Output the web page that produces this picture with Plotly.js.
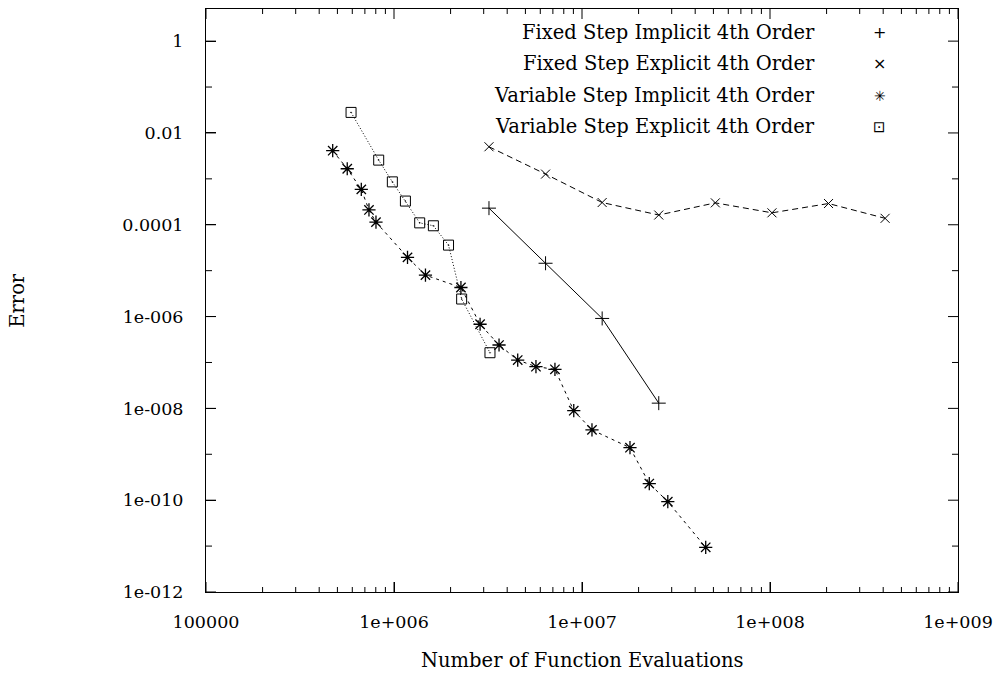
<!DOCTYPE html>
<html>
<head>
<meta charset="utf-8">
<script src="https://cdn.plot.ly/plotly-3.0.1.min.js"></script>
<style>html,body{margin:0;padding:0;background:#fff;}#chart{width:1001px;height:680px;}</style>
</head>
<body>
<div id="chart"></div>
<script>
// Data
const seriesNames = [
  "Fixed Step Implicit 4th Order",
  "Fixed Step Explicit 4th Order",
  "Variable Step Implicit 4th Order",
  "Variable Step Explicit 4th Order"
];

const fixedImplicitX = [3.2e6, 6.4e6, 1.28e7, 2.56e7];
const fixedImplicitY = [2.3e-4, 1.45e-5, 9.1e-7, 1.3e-8];

const fixedExplicitX = [3.2e6, 6.4e6, 1.28e7, 2.56e7, 5.12e7, 1.024e8, 2.048e8, 4.096e8];
const fixedExplicitY = [5.0e-3, 1.27e-3, 3.05e-4, 1.63e-4, 3.0e-4, 1.82e-4, 2.9e-4, 1.38e-4];

const varImplicitX = [4.72e5, 5.64e5, 6.70e5, 7.36e5, 8.02e5, 1.18e6, 1.47e6, 2.27e6, 2.87e6, 3.62e6,
                      4.55e6, 5.69e6, 7.18e6, 9.04e6, 1.13e7, 1.80e7, 2.28e7, 2.86e7, 4.55e7];
const varImplicitY = [4.1e-3, 1.66e-3, 5.9e-4, 2.1e-4, 1.14e-4, 1.95e-5, 8.0e-6, 4.3e-6, 6.8e-7, 2.4e-7,
                      1.13e-7, 8.1e-8, 7.1e-8, 8.9e-9, 3.4e-9, 1.39e-9, 2.3e-10, 9.3e-11, 9.4e-12];

const varExplicitX = [5.91e5, 8.29e5, 9.80e5, 1.15e6, 1.37e6, 1.62e6, 1.95e6, 2.29e6, 3.24e6];
const varExplicitY = [2.8e-2, 2.56e-3, 8.6e-4, 3.28e-4, 1.1e-4, 9.5e-5, 3.6e-5, 2.41e-6, 1.63e-7];

const xTickVals = [1e5, 1e6, 1e7, 1e8, 1e9];
const xTickText = ["100000", "1e+006", "1e+007", "1e+008", "1e+009"];
const yTickVals = [1, 1e-2, 1e-4, 1e-6, 1e-8, 1e-10, 1e-12];
const yTickText = ["1", "0.01", "0.0001", "1e-006", "1e-008", "1e-010", "1e-012"];

const xTitle = "Number of Function Evaluations";
const yTitle = "Error";
const legendGlyphs = ["+", "×", "✳", "⊡"];

// styles
const FONT = "DejaVu Serif, Liberation Serif, serif";
const TICKSIZE = 17.5;
const TEXTSIZE = 19.5;
const symbols = ["cross-thin-open", "x-thin-open", "asterisk-open", "square-open-dot"];
const dashes = ["solid", "6px,4px", "3px,4px", "1px,2px"];
const sizes = [10, 9, 11, 10];
const markerLW = [1, 1, 1.3, 1];
const glyphSizes = [16, 16, 14, 15];

const xs = [fixedImplicitX, fixedExplicitX, varImplicitX, varExplicitX];
const ys = [fixedImplicitY, fixedExplicitY, varImplicitY, varExplicitY];

const traces = [];
for (let i = 0; i < 4; i++) {
  traces.push({
    x: xs[i], y: ys[i], name: seriesNames[i], type: "scatter", mode: "lines+markers",
    line: {color: "#000", width: 1, dash: dashes[i]},
    marker: {symbol: symbols[i], size: sizes[i], color: "#000", line: {color: "#000", width: markerLW[i]}},
    showlegend: false, hoverinfo: "skip"
  });
}

// custom legend (symbol to the right of the text, as in the reference)
const legendRowsY = [0.960, 0.906, 0.851, 0.798];
const annotations = [];
for (let i = 0; i < 4; i++) {
  annotations.push({
    xref: "paper", yref: "paper", x: 0.812, y: legendRowsY[i], xanchor: "right", yanchor: "middle",
    text: seriesNames[i], showarrow: false, font: {family: FONT, size: TEXTSIZE, color: "#000"}
  });
  annotations.push({
    xref: "paper", yref: "paper", x: 0.896, y: legendRowsY[i], xanchor: "center", yanchor: "middle",
    text: legendGlyphs[i], showarrow: false, font: {family: "DejaVu Sans, sans-serif", size: glyphSizes[i], color: "#000"}
  });
}
// axis titles
annotations.push({xref: "paper", yref: "paper", x: 0.5, y: -0.118, xanchor: "center", yanchor: "middle",
  text: xTitle, showarrow: false, font: {family: FONT, size: TEXTSIZE, color: "#000"}});
annotations.push({xref: "paper", yref: "paper", x: -0.251, y: 0.5, xanchor: "center", yanchor: "middle",
  textangle: -90, text: yTitle, showarrow: false, font: {family: FONT, size: TEXTSIZE, color: "#000"}});

// tick marks on all four sides (major and minor), placed through the axes' scales
const xMinor = [];
for (let d = 5; d < 9; d++) for (let m = 2; m <= 9; m++) xMinor.push(m * Math.pow(10, d));
const yMinor = [1e-1, 1e-3, 1e-5, 1e-7, 1e-9, 1e-11];

const shapes = [];
const tickLine = {color: "#000", width: 1};
function xTick(v, len) {
  shapes.push({type: "line", xref: "x", yref: "paper", ysizemode: "pixel", yanchor: 0, x0: v, x1: v, y0: 0, y1: len, line: tickLine, layer: "above"});
  shapes.push({type: "line", xref: "x", yref: "paper", ysizemode: "pixel", yanchor: 1, x0: v, x1: v, y0: 0, y1: -len, line: tickLine, layer: "above"});
}
function yTick(v, len) {
  shapes.push({type: "line", yref: "y", xref: "paper", xsizemode: "pixel", xanchor: 0, y0: v, y1: v, x0: 0, x1: len, line: tickLine, layer: "above"});
  shapes.push({type: "line", yref: "y", xref: "paper", xsizemode: "pixel", xanchor: 1, y0: v, y1: v, x0: 0, x1: -len, line: tickLine, layer: "above"});
}
xMinor.forEach(v => xTick(v, 5));
yMinor.forEach(v => yTick(v, 6));
xTickVals.forEach(v => xTick(v, 10));
yTickVals.forEach(v => yTick(v, 10));

const layout = {
  width: 1001, height: 680,
  margin: {l: 206, r: 43, t: 9, b: 88},
  font: {family: FONT, size: TICKSIZE, color: "#000"},
  showlegend: false,
  xaxis: {
    type: "log", range: [5, 9], tickmode: "array", tickvals: xTickVals, ticktext: xTickText,
    ticks: "inside", ticklen: 10, tickcolor: "#000",
    showline: true, linecolor: "#000", mirror: true,
    showgrid: false, zeroline: false, ticklabelstandoff: 14,
    tickfont: {family: FONT, size: TICKSIZE, color: "#000"}
  },
  yaxis: {
    type: "log", range: [-12, 0.7], tickmode: "array", tickvals: yTickVals, ticktext: yTickText,
    ticks: "inside", ticklen: 10, tickcolor: "#000",
    showline: true, linecolor: "#000", mirror: true,
    showgrid: false, zeroline: false, ticklabelstandoff: 18,
    tickfont: {family: FONT, size: TICKSIZE, color: "#000"}
  },
  shapes: shapes,
  annotations: annotations
};

Plotly.newPlot("chart", traces, layout, {displayModeBar: false, staticPlot: true});
</script>
</body>
</html>
